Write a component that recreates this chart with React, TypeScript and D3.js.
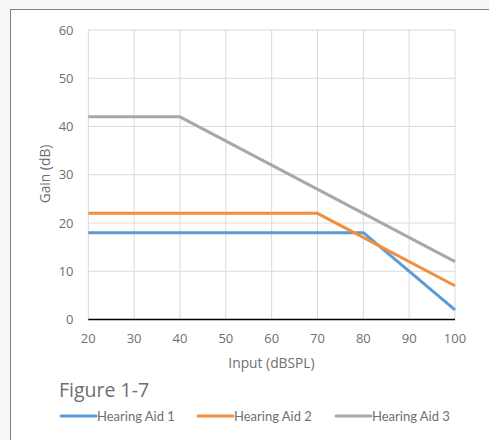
import React from "react";
import * as d3 from "d3";

const inputs1 = [20, 80, 100];
const gains1 = [18, 18, 2];
const inputs2 = [20, 70, 100];
const gains2 = [22, 22, 7];
const inputs3 = [20, 40, 100];
const gains3 = [42, 42, 12];
const seriesNames = ["Hearing Aid 1", "Hearing Aid 2", "Hearing Aid 3"];
const xTicks = [20, 30, 40, 50, 60, 70, 80, 90, 100];
const yTicks = [0, 10, 20, 30, 40, 50, 60];

const colors = ["#5B9BD5", "#F28E3C", "#A8A8A8"];
const font = "'Open Sans', sans-serif";

export default function App() {
  const W = 489, H = 440;
  const x = d3.scaleLinear().domain([20, 100]).range([88.3, 455]);
  const y = d3.scaleLinear().domain([0, 60]).range([319.5, 30]);
  const line = d3.line<[number, number]>().x(d => x(d[0])).y(d => y(d[1]));
  const series = [
    inputs1.map((v, i) => [v, gains1[i]] as [number, number]),
    inputs2.map((v, i) => [v, gains2[i]] as [number, number]),
    inputs3.map((v, i) => [v, gains3[i]] as [number, number]),
  ];
  const legendX = [61, 198, 336];
  return (
    <svg width={W} height={H} style={{ position: "absolute", left: 0, top: 0 }} fontFamily={font}>
      <rect x={0} y={0} width={W} height={H} fill="#f7f7f5" />
      <rect x={10.5} y={9.5} width={W} height={H} fill="#ffffff" stroke="#7f7f7f" strokeWidth={1} />
      {yTicks.map(t => (
        <line key={"gy" + t} x1={x(20)} x2={x(100)} y1={y(t)} y2={y(t)} stroke="#d9d9d9" strokeWidth={1} />
      ))}
      {xTicks.map(t => (
        <line key={"gx" + t} x1={x(t)} x2={x(t)} y1={y(0)} y2={y(60)} stroke="#d9d9d9" strokeWidth={1} />
      ))}
      <line x1={x(20)} x2={x(100)} y1={y(0)} y2={y(0)} stroke="#000" strokeWidth={1.5} />
      {yTicks.map(t => (
        <text key={"ty" + t} x={73.5} y={y(t)} dy="0.35em" textAnchor="end" fontSize={13} fill="#6f6f6f">{t}</text>
      ))}
      {xTicks.map(t => (
        <text key={"tx" + t} x={x(t)} y={338} dy="0.35em" textAnchor="middle" fontSize={13} fill="#6f6f6f">{t}</text>
      ))}
      <text x={271.5} y={363} dy="0.35em" textAnchor="middle" fontSize={13.8} fill="#6f6f6f">Input (dBSPL)</text>
      <text transform={`translate(45,${174}) rotate(-90)`} dy="0.35em" textAnchor="middle" fontSize={13.8} fill="#6f6f6f">Gain (dB)</text>
      {series.map((s, i) => (
        <path key={"s" + i} d={line(s) || ""} fill="none" stroke={colors[i]} strokeWidth={3} strokeLinejoin="round" />
      ))}
      <text x={59} y={397} fontSize={19.5} fill="#6f6f6f">Figure 1-7</text>
      {seriesNames.map((n, i) => (
        <g key={"lg" + i}>
          <line x1={legendX[i]} x2={legendX[i] + 35} y1={416} y2={416} stroke={colors[i]} strokeWidth={3} strokeLinecap="round" />
          <text x={legendX[i] + 36} y={416} dy="0.35em" fontSize={13} fontFamily="Lato, sans-serif" fill="#6f6f6f">{n}</text>
        </g>
      ))}
    </svg>
  );
}
